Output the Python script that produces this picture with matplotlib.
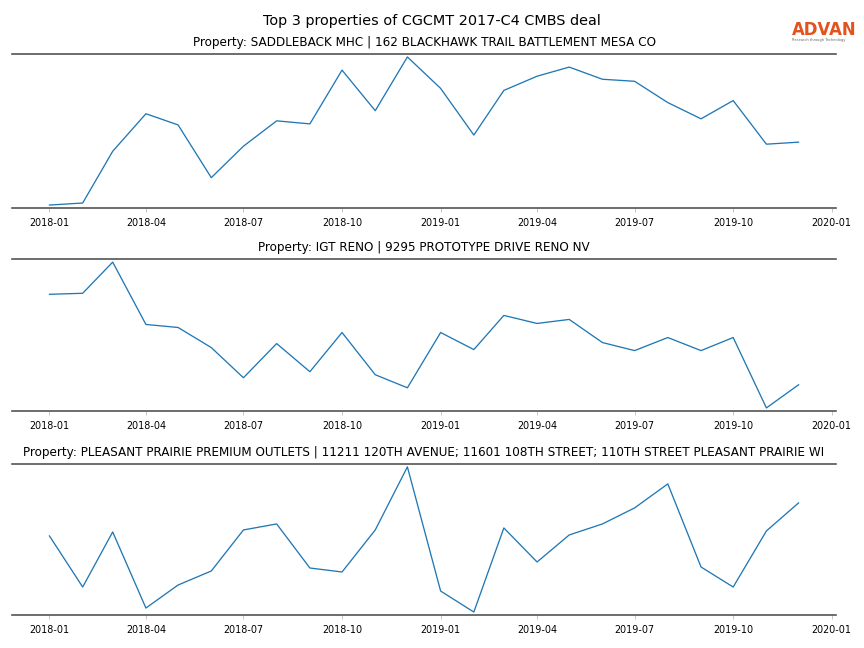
import matplotlib

matplotlib.use('Agg')
import matplotlib.pyplot as plt
import pandas as pd

# Mesi osservati
mesi = pd.date_range('2018-01-01', '2019-12-01', freq='MS')

# Titoli delle proprieta
titoli = [
    "Property: SADDLEBACK MHC | 162 BLACKHAWK TRAIL BATTLEMENT MESA CO",
    "Property: IGT RENO | 9295 PROTOTYPE DRIVE RENO NV",
    "Property: PLEASANT PRAIRIE PREMIUM OUTLETS | 11211 120TH AVENUE; 11601 108TH STREET; 110TH STREET PLEASANT PRAIRIE WI",
]

# Valori stimati (visite relative)
saddleback = [3, 5, 56, 93, 82, 30, 61, 86, 83, 136, 96, 149,
              118, 72, 116, 130, 139, 127, 125, 104, 88, 106, 63, 65]
igt_reno = [116, 117, 148, 86, 83, 63, 33, 67, 39, 78, 36, 23,
            78, 61, 95, 87, 91, 68, 60, 73, 60, 73, 3, 26]
pleasant_prairie = [79, 28, 83, 7, 30, 44, 85, 91, 47, 43, 85, 148,
                    24, 3, 87, 53, 80, 91, 107, 131, 48, 28, 84, 112]

serie = [saddleback, igt_reno, pleasant_prairie]

fig = plt.figure(figsize=(12, 9), dpi=72)
fig.suptitle("Top 3 properties of CGCMT 2017-C4 CMBS deal", fontsize=14.4, y=0.979)

posizioni = [(0.679, 0.9167), (0.366, 0.600), (0.051, 0.284)]
left, right = 0.0139, 0.9676

for (bottom, top), valori, titolo in zip(posizioni, serie, titoli):
    ax = fig.add_axes([left, bottom, right - left, top - bottom])
    ax.plot(mesi, valori, color='#1f77b4', linewidth=1.3)
    ax.margins(y=0.02)
    ax.set_title(titolo, fontsize=12, pad=8)
    ax.set_yticks([])
    ax.spines['left'].set_visible(False)
    ax.spines['right'].set_visible(False)
    for s in ['top', 'bottom']:
        ax.spines[s].set_color('#4d4d4d')
        ax.spines[s].set_linewidth(1.6)
    ax.tick_params(axis='x', labelsize=9.6, color='#bbbbbb', length=4, pad=6)
    ax.xaxis.set_major_locator(matplotlib.dates.MonthLocator(bymonth=[1, 4, 7, 10]))
    ax.xaxis.set_major_formatter(matplotlib.dates.DateFormatter('%Y-%m'))

# Logo
fig.text(0.916, 0.946, "ADVAN", color='#e2531f', fontsize=16.5, ha='left',
         va='baseline', fontweight='bold')
fig.text(0.917, 0.937, "Research through Technology", color='#666666',
         fontsize=3.6, ha='left', va='baseline')

plt.savefig('out.png', dpi=72)
plt.close()
